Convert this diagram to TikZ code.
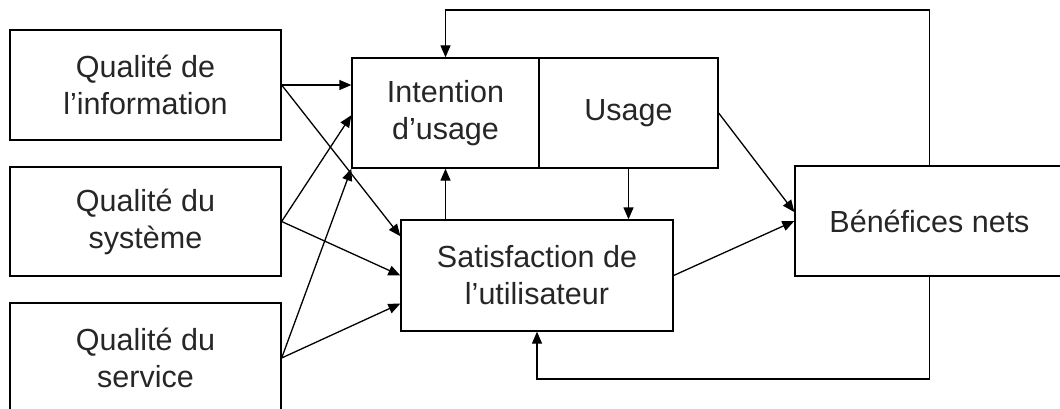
\documentclass[tikz,border=0pt]{standalone}
\usepackage{fontspec}
\setmainfont{Liberation Sans}
\usetikzlibrary{arrows.meta,calc}
\begin{document}
\begin{tikzpicture}[x=1pt,y=-1pt,
  box/.style={draw=black,line width=1.3pt,rectangle,inner sep=0pt,align=center,
    font=\fontsize{30.5}{37}\selectfont,text=black!85},
  conn/.style={line width=1.3pt,-{Triangle[length=12pt,width=10pt]}}]
\useasboundingbox (0,0) rectangle (1060,409);
\clip (0,0) rectangle (1060,409);
\node[box,minimum width=271pt,minimum height=110pt] (info) at (145.5,85) {Qualité de\\l’information};
\node[box,minimum width=271pt,minimum height=109pt] (sys) at (145.5,221.5) {Qualité du\\système};
\node[box,minimum width=271pt,minimum height=110pt] (serv) at (145.5,358) {Qualité du\\service};
\node[box,minimum width=187pt,minimum height=110pt] (int) at (445.5,113) {Intention\\d’usage};
\node[box,minimum width=179pt,minimum height=110pt] (usage) at (628.5,113) {Usage};
\node[box,minimum width=272pt,minimum height=111pt] (satis) at (537,275.5) {Satisfaction de\\l’utilisateur};
\node[box,minimum width=269pt,minimum height=110pt] (bene) at (929.5,221) {Bénéfices nets};
\coordinate (topy) at (0,10);
\coordinate (boty) at (0,379);
% inputs
\draw[conn] (info.east) -- (info.east -| int.west);
\draw[conn] (info.east) -- ($(satis.north west)!0.15!(satis.south west)$);
\draw[conn] (sys.east) -- ($(int.north west)!0.52!(int.south west)$);
\draw[conn] (sys.east) -- (satis.west);
\draw[conn] (serv.east) -- (int.south west);
\draw[conn] (serv.east) -- ($(satis.north west)!0.75!(satis.south west)$);
% internal
\draw[conn] (int.south |- satis.north) -- (int.south);
\draw[conn] (usage.south) -- (usage.south |- satis.north);
\draw[conn] (usage.east) -- ($(bene.north west)!0.42!(bene.south west)$);
\draw[conn] (satis.east) -- ($(bene.north west)!0.5!(bene.south west)$);
% feedback
\draw[conn] (bene.north) -- (bene.north |- topy) -- (int.north |- topy) -- (int.north);
\draw[conn] (bene.south) -- (bene.south |- boty) -- (satis.south |- boty) -- (satis.south);
\end{tikzpicture}
\end{document}
